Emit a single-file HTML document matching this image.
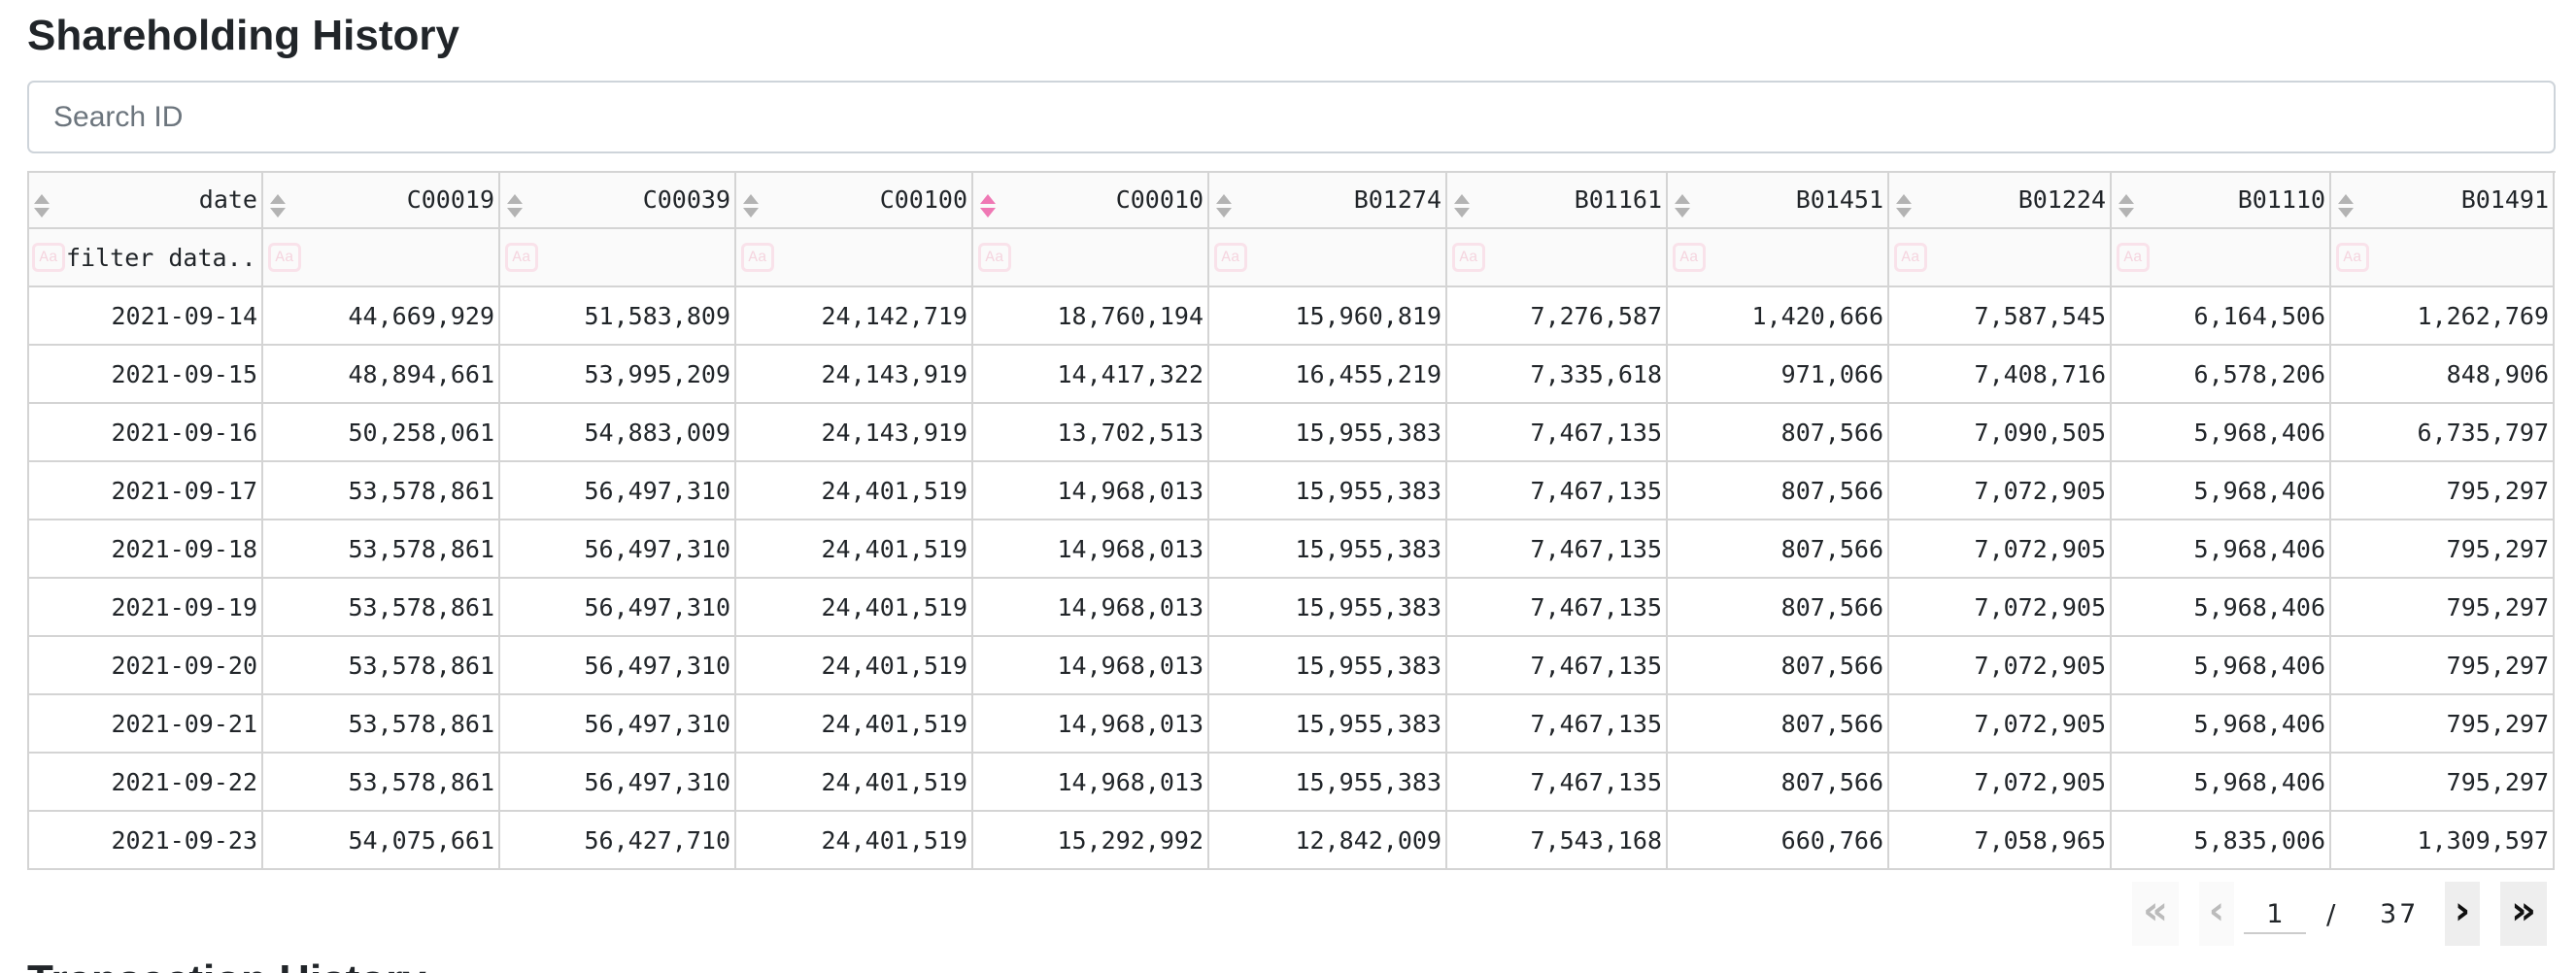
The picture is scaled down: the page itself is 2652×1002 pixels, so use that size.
<!DOCTYPE html>
<html style="width:2652px;height:1002px;overflow:hidden"><head><meta charset="utf-8">
<style>
*{box-sizing:border-box;margin:0;padding:0}
body{width:2652px;height:1002px;overflow:hidden;background:#fff;position:relative;font-family:"Liberation Sans",sans-serif;color:#212529}
#title{position:absolute;left:28px;top:12px;font-size:44px;font-weight:bold;font-family:"Liberation Sans",sans-serif}
#search{position:absolute;left:28px;top:83px;width:2603px;height:75px;border:2px solid #ced4da;border-radius:7px;font-size:30px;color:#6c757d;padding:0 25px;line-height:71px;font-family:"Liberation Sans",sans-serif}
#tbl{position:absolute;left:28px;top:176px}
.cell{position:absolute;border-right:2px solid #d4d4d4;border-bottom:2px solid #d4d4d4;font-family:"DejaVu Sans Mono",monospace;font-size:25px;text-align:right;padding-right:4px;color:#212529;white-space:nowrap;overflow:hidden}
.hd{background:#fafafa}
.sort{position:absolute;left:6px;top:15px;width:18px;height:30px}
.aa{position:absolute;left:5px;top:14px;width:34px;height:30px;border:3px solid #f9e2ea;border-radius:6px;font-size:16px;color:#f5d5df;text-align:center;line-height:24px;font-family:"Liberation Mono",monospace;padding:0}
.pg{position:absolute;top:908px;height:66px;background:#fafafa;font-size:40px;font-weight:bold;text-align:center;line-height:60px;color:#bbb;font-family:"DejaVu Sans",sans-serif}
#clip{position:absolute;left:0;top:980px;width:2652px;height:22px;overflow:hidden}
#bottom{position:absolute;left:28px;top:5px;font-size:44px;line-height:50px;font-weight:bold;font-family:"Liberation Sans",sans-serif;white-space:nowrap}
</style></head><body>
<div id="title">Shareholding History</div>
<div id="search">Search ID</div>
<div id="tbl"></div>
<div class="pg" style="left:2195px;width:48px">«</div>
<div class="pg" style="left:2264px;width:36px">‹</div>
<div style="position:absolute;left:2310px;top:922px;width:64px;height:40px;border-bottom:2px solid #ccc;font-size:27px;text-align:center;line-height:40px;font-family:'DejaVu Sans',sans-serif">1</div>
<div style="position:absolute;left:2395px;top:922px;font-size:28px;line-height:40px;font-family:'DejaVu Sans',sans-serif">/</div>
<div style="position:absolute;left:2450px;top:922px;font-size:27px;line-height:40px;letter-spacing:3px;font-family:'DejaVu Sans',sans-serif">37</div>
<div class="pg" style="left:2517px;width:36px;background:#eee;color:#111">›</div>
<div class="pg" style="left:2574px;width:48px;background:#eee;color:#111">»</div>
<div id="clip"><div id="bottom">Transaction History</div></div>
<script>
const columns=["date","C00019","C00039","C00100","C00010","B01274","B01161","B01451","B01224","B01110","B01491"];
const colWidths=[243,244,243,244,243,245,227,228,229,226,230];
const dates=["2021-09-14","2021-09-15","2021-09-16","2021-09-17","2021-09-18","2021-09-19","2021-09-20","2021-09-21","2021-09-22","2021-09-23"];
const r17=["53,578,861","56,497,310","24,401,519","14,968,013","15,955,383","7,467,135","807,566","7,072,905","5,968,406","795,297"];
const rows=[
["44,669,929","51,583,809","24,142,719","18,760,194","15,960,819","7,276,587","1,420,666","7,587,545","6,164,506","1,262,769"],
["48,894,661","53,995,209","24,143,919","14,417,322","16,455,219","7,335,618","971,066","7,408,716","6,578,206","848,906"],
["50,258,061","54,883,009","24,143,919","13,702,513","15,955,383","7,467,135","807,566","7,090,505","5,968,406","6,735,797"],
r17,r17,r17,r17,r17,r17,
["54,075,661","56,427,710","24,401,519","15,292,992","12,842,009","7,543,168","660,766","7,058,965","5,835,006","1,309,597"]];
const sortedCol=4;
const tbl=document.getElementById('tbl');
function cell(x,y,w,h,txt,cls){const d=document.createElement('div');d.className='cell '+(cls||'');d.style.left=x+'px';d.style.top=y+'px';d.style.width=w+'px';d.style.height=h+'px';d.style.lineHeight=h+'px';if(txt!==null)d.textContent=txt;tbl.appendChild(d);return d;}
let x=0;
const tb=document.createElement('div');tb.style.cssText='position:absolute;left:0;top:0;width:2603px;height:2px;background:#d4d4d4;z-index:2';tbl.appendChild(tb);
const lb=document.createElement('div');lb.style.cssText='position:absolute;left:0;top:0;width:2px;height:720px;background:#d4d4d4;z-index:2';tbl.appendChild(lb);
columns.forEach((c,i)=>{
  const w=colWidths[i];
  const h=cell(x,0,w,60,c,'hd');
  
  
  const s=document.createElement('div');s.className='sort';
  const col=i===sortedCol?'#ef78b4':'#b3b3b3';
  s.innerHTML='<svg width="18" height="30"><polygon points="9,1 17,11 1,11" fill="'+col+'"/><polygon points="1,15 17,15 9,25" fill="'+col+'"/></svg>';
  
  
  h.appendChild(s);
  const f=cell(x,60,w,60,null,'hd');
  f.style.textAlign='left';
  
  
  const a=document.createElement('div');a.className='aa';a.textContent='Aa';
  
  
  f.appendChild(a);
  if(i===0){const t=document.createElement('span');t.textContent='filter data...';t.style.cssText='position:absolute;left:40px;top:0';f.appendChild(t);}
  for(let r=0;r<dates.length;r++){
    const v=i===0?dates[r]:rows[r][i-1];
    const d=cell(x,120+r*60,w,60,v);
    
    
  }
  x+=w;
});
</script>
</body></html>
